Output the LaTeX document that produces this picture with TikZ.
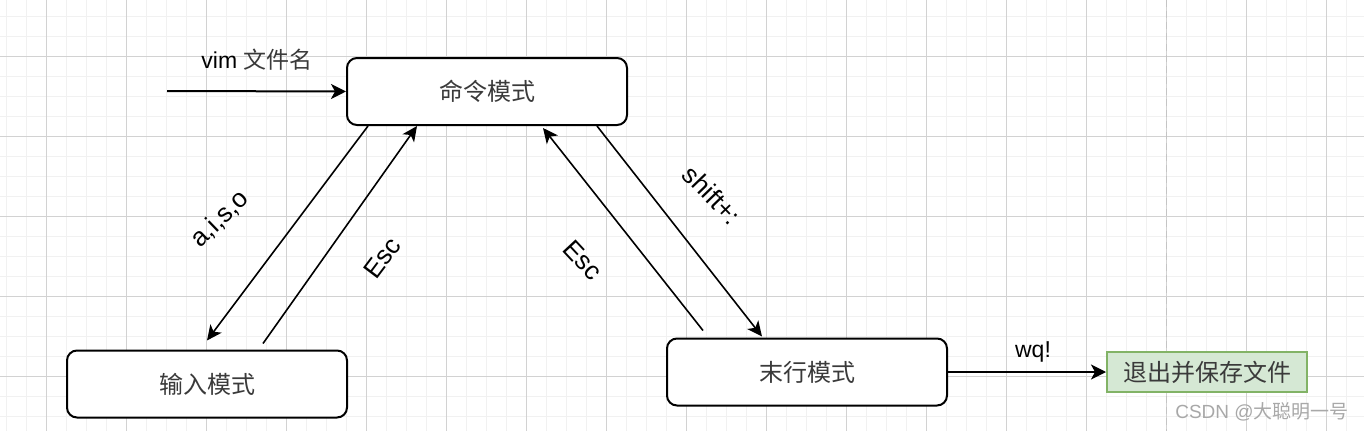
\documentclass[tikz,border=0pt]{standalone}
\usepackage{fontspec}
\setmainfont{Liberation Sans}
\newfontfamily\cjk{Noto Sans CJK SC}
\usetikzlibrary{arrows.meta}
\definecolor{minorgrid}{HTML}{F1F1F1}
\definecolor{majorgrid}{HTML}{D2D2D2}
\definecolor{pagebreak}{HTML}{C4C4C4}
\definecolor{txtgray}{HTML}{3A3A3A}
\definecolor{greenfill}{HTML}{D5E8D4}
\definecolor{greenline}{HTML}{82B366}
\definecolor{markgray}{HTML}{A8A8A8}
\tikzset{
  modebox/.style={draw=black, fill=white, line width=2pt, rounded corners=10pt,
    minimum width=280pt, minimum height=67pt, inner sep=0pt,
    font=\cjk\fontsize{24}{28}\selectfont, text=txtgray},
  savebox/.style={draw=greenline, fill=greenfill, line width=2pt,
    minimum width=200pt, minimum height=40pt, inner sep=0pt,
    font=\cjk\fontsize{24}{28}\selectfont, text=txtgray},
  arr/.style={draw=black, line width=2pt, -{Stealth[length=15pt, width=15pt, inset=4pt]}},
  diag/.style={draw=black, line width=1.6pt, -{Stealth[length=15pt, width=14pt, inset=4pt]}},
  lbl/.style={font=\fontsize{23}{27}\selectfont, text=black, inner sep=0pt},
  rlbl/.style={font=\fontsize{26}{30}\selectfont, text=black, inner sep=0pt},
}
\begin{document}
\begin{tikzpicture}[x=1pt,y=-1pt]
\useasboundingbox (0,0) rectangle (1364,431);
\fill[white] (0,0) rectangle (1364,431);
% grid
\foreach \i in {0,...,68} \draw[minorgrid, line width=1.5pt] ({6.7+20*\i},0) -- ({6.7+20*\i},431);
\foreach \i in {0,...,22} \draw[minorgrid, line width=1.5pt] (0,{-3.3+20*\i}) -- (1364,{-3.3+20*\i});
\foreach \i in {0,...,16} \draw[majorgrid, line width=1pt] ({46.7+80*\i},0) -- ({46.7+80*\i},431);
\foreach \i in {1,...,5} \draw[majorgrid, line width=1pt] (0,{-23.3+80*\i}) -- (1364,{-23.3+80*\i});
% page break
\draw[pagebreak, line width=1.5pt, dash pattern=on 7pt off 4pt] (1166.7,0) -- (1166.7,431);

% nodes
\node[modebox] (cmd) at (487,91.5) {命令模式};
\node[modebox] (input) at (207,384) {输入模式};
\node[modebox] (last) at (807,372) {末行模式};
\node[savebox] (save) at (1207,372) {退出并保存文件};
\coordinate (start) at (167,91);

% connectors
\draw[arr] (start) -- (cmd.west);
\draw[diag] ([xshift=22pt]cmd.south west) -- ([yshift=9pt]input.north);
\draw[diag] ([xshift=56pt, yshift=6pt]input.north) -- ([xshift=-70pt]cmd.south);
\draw[diag] ([xshift=-104pt, yshift=7pt]last.north) -- ([xshift=56pt, yshift=-2pt]cmd.south);
\draw[diag] ([xshift=110pt]cmd.south) -- ([xshift=-45pt, yshift=1pt]last.north);
\draw[arr] (last.east) -- (save.west);

% labels
\node[lbl] (lvim) at (257,60) {vim {\cjk\color{txtgray}文件名}};
\node[rlbl, rotate=44] (laiso) at (220,219) {a,i,s,o};
\node[rlbl, rotate=53] (lesc1) at (382,258) {Esc};
\node[rlbl, rotate=-47] (lesc2) at (583,260) {Esc};
\node[rlbl, rotate=-46] (lshift) at (712,195) {shift+:};
\node[lbl] (lwq) at (1033,352) {wq!};

% watermark
\node[font=\fontsize{19}{23}\selectfont, text=markgray, inner sep=0pt] (mark) at (1262,412) {CSDN @{\cjk 大聪明一号}};
\end{tikzpicture}
\end{document}
